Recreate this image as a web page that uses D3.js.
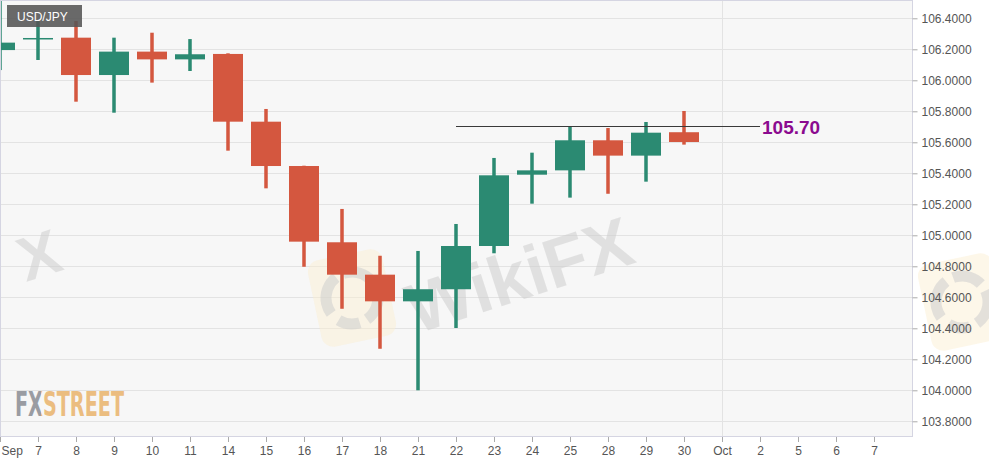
<!DOCTYPE html>
<html>
<head>
<meta charset="utf-8">
<script src="https://cdn.jsdelivr.net/npm/d3@7"></script>
<style>
  html, body { margin: 0; padding: 0; background: #ffffff; }
  svg { display: block; }
</style>
</head>
<body>
<svg id="chart" width="989" height="462"></svg>
<script>
// ---- Data ----
const dates = ["2020-09-04","2020-09-07","2020-09-08","2020-09-09","2020-09-10","2020-09-11",
               "2020-09-14","2020-09-15","2020-09-16","2020-09-17","2020-09-18",
               "2020-09-21","2020-09-22","2020-09-23","2020-09-24","2020-09-25",
               "2020-09-28","2020-09-29","2020-09-30"];
const openValues  = [106.195,106.270,106.275,106.034,106.185,106.135,106.170,105.733,105.447,104.955,104.746,104.574,104.652,104.931,105.391,105.419,105.613,105.514,105.665];
const highValues  = [106.520,106.389,106.383,106.275,106.307,106.266,106.174,105.815,105.449,105.170,104.868,104.899,105.073,105.499,105.533,105.701,105.692,105.731,105.802];
const lowValues   = [106.066,106.131,105.862,105.791,105.985,106.060,105.546,105.303,104.797,104.526,104.268,104.000,104.402,104.884,105.204,105.243,105.268,105.346,105.585];
const closeValues = [106.243,106.273,106.034,106.185,106.135,106.168,105.733,105.447,104.959,104.746,104.574,104.652,104.931,105.387,105.419,105.613,105.514,105.662,105.602];

const xTickLabels = ["Sep","7","8","9","10","11","14","15","16","17","18","21","22","23","24","25","28","29","30","Oct","2","5","6","7"];
const yTickValues = [103.8,104.0,104.2,104.4,104.6,104.8,105.0,105.2,105.4,105.6,105.8,106.0,106.2,106.4];
const symbol = "USD/JPY";
const levelValue = 105.70;
const levelLabel = "105.70";
const levelFromIndex = 12;   // Sep 22
const levelToIndex = 20;     // Oct 2

// ---- Layout ----
const plot = { left: 1, right: 912, top: 1, bottom: 437 };
const UP = "#2b8a72", DOWN = "#d4573f";
const FONT = "Liberation Sans, Arial, sans-serif";

const svg = d3.select("#chart");
const x = d3.scaleLinear().domain([0, 24]).range([0, 912]);
const y = d3.scaleLinear().domain([103.8, 106.4]).range([421.3, 18.3]);

const defs = svg.append("defs");
defs.append("clipPath").attr("id", "plotClip")
  .append("rect").attr("x", plot.left).attr("y", plot.top)
  .attr("width", plot.right - plot.left).attr("height", plot.bottom - plot.top);
const grad = defs.append("linearGradient").attr("id", "logoFill")
  .attr("gradientUnits", "userSpaceOnUse")
  .attr("x1", 0).attr("x2", 989).attr("y1", 0).attr("y2", 0);
const split = 40.8 / 989;
grad.append("stop").attr("offset", 0).attr("stop-color", "#9a9ca2");
grad.append("stop").attr("offset", split).attr("stop-color", "#9a9ca2");
grad.append("stop").attr("offset", split).attr("stop-color", "#ebbd80");
grad.append("stop").attr("offset", 1).attr("stop-color", "#ebbd80");

// plot background
svg.append("rect").attr("x", plot.left).attr("y", plot.top)
  .attr("width", plot.right - plot.left).attr("height", plot.bottom - plot.top)
  .attr("fill", "#f7f7f7");

// horizontal gridlines
svg.append("g").selectAll("line").data(yTickValues).join("line")
  .attr("x1", plot.left).attr("x2", plot.right)
  .attr("y1", d => Math.round(y(d)) + 0.5).attr("y2", d => Math.round(y(d)) + 0.5)
  .attr("stroke", "#e3e3e3").attr("stroke-width", 1);

// month gridline (Oct)
svg.append("line")
  .attr("x1", Math.round(x(19)) + 0.5).attr("x2", Math.round(x(19)) + 0.5)
  .attr("y1", plot.top).attr("y2", plot.bottom)
  .attr("stroke", "#e3e3e3");

// ---- Watermark (tiled) ----
const wm = svg.append("g").attr("pointer-events", "none");
function wmLogo(cx, cy) {
  const logo = wm.append("g").attr("transform", `translate(${cx},${cy}) rotate(-12)`);
  logo.append("rect").attr("x", -38).attr("y", -44).attr("width", 76).attr("height", 88)
    .attr("rx", 12).attr("fill", "#fbeecf").attr("opacity", 0.45);
  logo.append("circle").attr("r", 26).attr("fill", "none")
    .attr("stroke", "#cdcdcd").attr("stroke-width", 11).attr("opacity", 0.55)
    .attr("stroke-dasharray", "30 8 22 10 40 8");
}
wmLogo(352, 298);
wmLogo(962, 302);
wm.append("text").attr("transform", "translate(527,298) rotate(-18)")
  .attr("text-anchor", "middle")
  .attr("font-family", FONT).attr("font-weight", "bold").attr("font-size", 70)
  .attr("fill", "#cfcfcf").attr("opacity", 0.55)
  .text("WikiFX");
// fragment of the neighbouring tile at the left edge
wm.append("text").attr("transform", "translate(26,282) rotate(-18)")
  .attr("text-anchor", "start")
  .attr("font-family", FONT).attr("font-weight", "bold").attr("font-size", 62)
  .attr("fill", "#cfcfcf").attr("opacity", 0.55)
  .text("X");

// ---- Candles ----
const candles = svg.append("g").attr("clip-path", "url(#plotClip)");
const idx = dates.map((d, i) => i);
candles.selectAll("rect.wick").data(idx).join("rect").attr("class", "wick")
  .attr("x", i => x(i) - 1.75).attr("width", 3.5)
  .attr("y", i => y(highValues[i]))
  .attr("height", i => y(lowValues[i]) - y(highValues[i]))
  .attr("fill", i => closeValues[i] >= openValues[i] ? UP : DOWN);
candles.selectAll("rect.body").data(idx).join("rect").attr("class", "body")
  .attr("x", i => x(i) - 15).attr("width", 30)
  .attr("y", i => y(Math.max(openValues[i], closeValues[i])))
  .attr("height", i => Math.max(1.5, Math.abs(y(openValues[i]) - y(closeValues[i]))))
  .attr("fill", i => closeValues[i] >= openValues[i] ? UP : DOWN);

// ---- Level line and label ----
svg.append("line")
  .attr("x1", x(levelFromIndex)).attr("x2", x(levelToIndex))
  .attr("y1", Math.round(y(levelValue)) - 0.5).attr("y2", Math.round(y(levelValue)) - 0.5)
  .attr("stroke", "#3a3a3a").attr("stroke-width", 1);
svg.append("text")
  .attr("x", x(levelToIndex) + 2).attr("y", y(levelValue) + 7)
  .attr("font-family", FONT).attr("font-weight", "bold").attr("font-size", 19)
  .attr("fill", "#8b0a8f")
  .text(levelLabel);

// plot border
svg.append("rect").attr("x", plot.left - 0.5).attr("y", plot.top - 0.5)
  .attr("width", plot.right - plot.left + 1).attr("height", plot.bottom - plot.top)
  .attr("fill", "none").attr("stroke", "#d5d5e2").attr("stroke-width", 1);

// ---- Axes ----
const yAxis = svg.append("g").attr("transform", `translate(${plot.right + 0.5},0)`)
  .call(d3.axisRight(y).tickValues(yTickValues).tickFormat(d3.format(".4f")).tickSize(5).tickPadding(4));
yAxis.select(".domain").remove();
yAxis.selectAll(".tick line").attr("stroke", "#aaaaaa");
yAxis.selectAll(".tick text").attr("fill", "#555555")
  .attr("font-family", FONT).attr("font-size", 12);

const xAxis = svg.append("g").attr("transform", `translate(0,${plot.bottom})`)
  .call(d3.axisBottom(x).tickValues(d3.range(xTickLabels.length))
    .tickFormat(i => xTickLabels[i]).tickSize(5).tickPadding(4));
xAxis.select(".domain").remove();
xAxis.selectAll(".tick line").attr("stroke", "#aaaaaa");
xAxis.selectAll(".tick text").attr("fill", "#555555")
  .attr("font-family", FONT).attr("font-size", 12)
  .attr("text-anchor", i => i === 0 ? "start" : "middle")
  .attr("dx", i => i === 0 ? 1 : 0);

// ---- Symbol box ----
svg.append("rect").attr("x", 7).attr("y", 5).attr("width", 75).attr("height", 22)
  .attr("fill", "#555555").attr("opacity", 0.88);
svg.append("text").attr("x", 17).attr("y", 20.5)
  .attr("font-family", FONT).attr("font-size", 12)
  .attr("fill", "#ffffff").text(symbol);

// ---- FXStreet logo (single text, two-colour fill) ----
const NARROW = "Liberation Sans Narrow, DejaVu Sans Condensed, Arial Narrow, sans-serif";
svg.append("text").attr("x", 15).attr("y", 416)
  .attr("font-family", NARROW).attr("font-weight", "bold").attr("font-size", 34)
  .attr("fill", "url(#logoFill)")
  .attr("textLength", 109).attr("lengthAdjust", "spacingAndGlyphs").text("FXSTREET");
</script>
</body>
</html>
